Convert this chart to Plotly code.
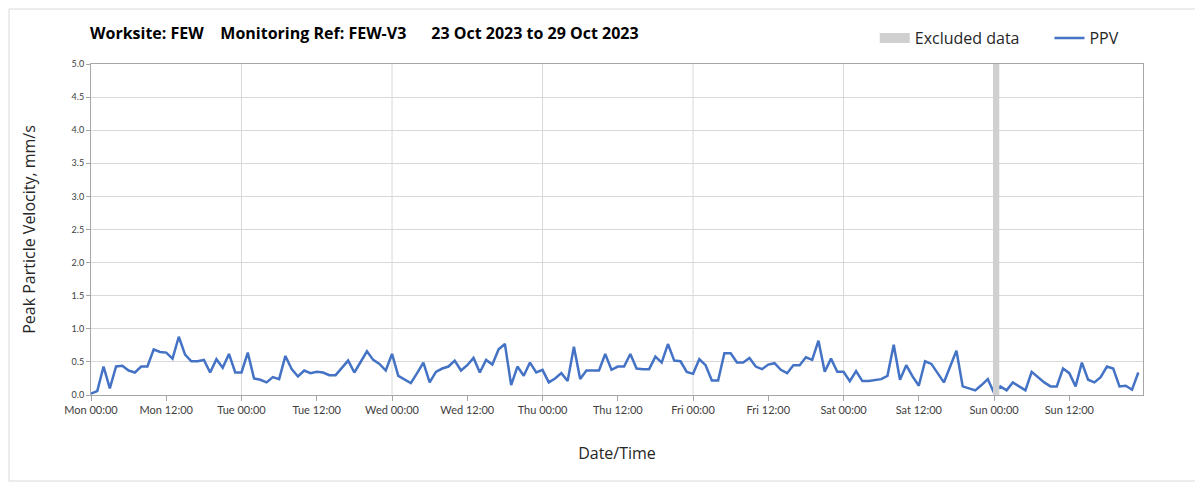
import pandas as pd
import plotly.graph_objects as go

# hourly PPV readings, Mon 23 Oct 2023 00:00 onwards (mm/s)
start = "2023-10-23 00:00"
ppv = [
    0.02, 0.06, 0.43, 0.10, 0.43, 0.44, 0.37, 0.34, 0.43, 0.43, 0.69, 0.65, 0.64, 0.55,
    0.88, 0.61, 0.51, 0.51, 0.53, 0.34, 0.54, 0.41, 0.62, 0.34, 0.34, 0.64, 0.25, 0.23,
    0.19, 0.27, 0.24, 0.59, 0.39, 0.28, 0.37, 0.33, 0.35, 0.34, 0.30, 0.30, 0.41, 0.52,
    0.34, 0.51, 0.66, 0.53, 0.47, 0.37, 0.62, 0.29, 0.24, 0.18, 0.33, 0.49, 0.19, 0.35,
    0.40, 0.43, 0.52, 0.37, 0.45, 0.56, 0.34, 0.53, 0.46, 0.69, 0.77, 0.15, 0.43, 0.29,
    0.49, 0.34, 0.38, 0.19, 0.25, 0.33, 0.21, 0.73, 0.24, 0.37, 0.37, 0.37, 0.62, 0.38,
    0.43, 0.43, 0.62, 0.40, 0.39, 0.39, 0.58, 0.49, 0.77, 0.52, 0.51, 0.35, 0.32, 0.54,
    0.45, 0.22, 0.22, 0.63, 0.63, 0.49, 0.49, 0.56, 0.43, 0.39, 0.46, 0.48, 0.38, 0.33,
    0.45, 0.45, 0.57, 0.53, 0.82, 0.35, 0.55, 0.35, 0.35, 0.21, 0.36, 0.21, 0.21, 0.22,
    0.24, 0.29, 0.76, 0.23, 0.45, 0.28, 0.14, 0.51, 0.47, 0.33, 0.19, 0.43, 0.67, 0.13,
    0.10, 0.07, 0.15, 0.24, 0.03, 0.13, 0.07, 0.19, 0.13, 0.07, 0.35, 0.27, 0.19, 0.13,
    0.13, 0.40, 0.33, 0.13, 0.49, 0.23, 0.19, 0.27, 0.43, 0.40, 0.13, 0.14, 0.08, 0.34,
]
times = pd.date_range(start, periods=len(ppv), freq="h")

excluded = ("2023-10-28 23:50", "2023-10-29 00:50")
days = pd.date_range("2023-10-24", "2023-10-29", freq="D")
x_range = ["2023-10-23 00:00", "2023-10-29 23:45"]

font = "Lato, 'Open Sans', sans-serif"
wide = "'Open Sans', Lato, sans-serif"
grid = "#d9d9d9"

W, H = 1203, 490
L, R, T, B = 83, 68, 56, 103
pw, ph = W - L - R, H - T - B

fig = go.Figure()
fig.add_trace(go.Scatter(
    x=[None], y=[None], mode="lines", name="Excluded data\u00a0\u00a0\u00a0\u00a0\u00a0\u00a0",
    line=dict(color="#d0d0d0", width=11),
))
fig.add_trace(go.Scatter(
    x=times, y=ppv, mode="lines", name="PPV",
    line=dict(color="#4472c4", width=2.5),
))

fig.add_vrect(x0=excluded[0], x1=excluded[1], fillcolor="#d0d0d0", opacity=1,
              line_width=0, layer="above")
for d in days:
    fig.add_shape(type="line", x0=d, x1=d, y0=0, y1=1, xref="x", yref="paper",
                  line=dict(color=grid, width=1), layer="below")

# frame around the whole chart
fig.add_shape(type="rect", xref="paper", yref="paper",
              x0=-(L - 1) / pw, x1=(W - 10 - L) / pw,
              y0=-(B - 17) / ph, y1=(T - 1) / ph + 1,
              line=dict(color="#d9d9d9", width=1))

fig.update_layout(
    width=W, height=H,
    margin=dict(l=L, r=R, t=T, b=B),
    plot_bgcolor="white", paper_bgcolor="white",
    font=dict(family=font, color="#262626"),
    title=dict(
        text="<b>Worksite: FEW\u00a0\u00a0\u00a0\u00a0Monitoring Ref: FEW-V3"
             "\u00a0\u00a0\u00a0\u00a0\u00a0\u00a023 Oct 2023 to 29 Oct 2023</b>",
        x=82 / W, xanchor="left", y=1 - 25 / H, yanchor="middle",
        font=dict(family=wide, size=16, color="black"),
    ),
    legend=dict(orientation="h", x=0.745, xanchor="left", y=1 + 26 / ph, yanchor="middle",
                font=dict(family=wide, size=16, color="#262626"), itemwidth=30,
                bgcolor="rgba(0,0,0,0)"),
    showlegend=True,
)
fig.update_xaxes(
    type="date", automargin=False,
    range=x_range, dtick=12 * 3600 * 1000, tick0="2023-10-23 00:00",
    tickformat="%a %H:%M", showgrid=False,
    ticks="outside", ticklen=5, tickcolor="#a6a6a6",
    showline=True, linecolor="#a6a6a6", mirror=True,
    tickfont=dict(size=11, color="#404040"),
    title=dict(text="Date/Time", font=dict(family=wide, size=16, color="#262626"),
               standoff=32),
)
fig.update_yaxes(
    automargin=False,
    range=[0, 5], dtick=0.5, tickformat=".1f",
    showgrid=True, gridcolor=grid, zeroline=False,
    showline=True, linecolor="#a6a6a6", mirror=True,
    ticks="outside", ticklen=4, tickcolor="#a6a6a6",
    tickfont=dict(size=9, color="#404040"),
    title=dict(text="Peak Particle Velocity, mm/s",
               font=dict(family=wide, size=16, color="#262626"), standoff=32),
)

fig.write_html("out.html")
